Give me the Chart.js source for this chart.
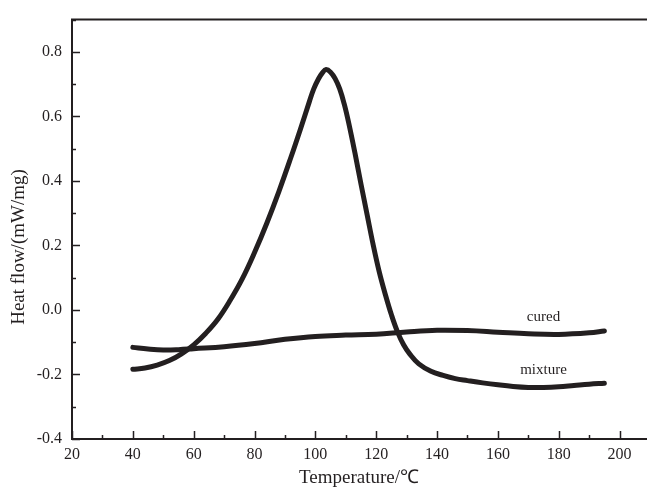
<!DOCTYPE html>
<html>
<head>
<meta charset="utf-8">
<script src="https://cdn.jsdelivr.net/npm/chart.js@4"></script>
<style>
    html, body { margin: 0; padding: 0; background: #fff; overflow: hidden; }
    #dsc { display: block; }
</style>
</head>
<body>
<canvas id="dsc" width="660" height="490"></canvas>
<script>
// ─── DSC data ────────────────────────────────────────────────────────────────

const mixtureTemp = [40, 44, 48, 52, 56, 60, 64, 68, 72, 76, 80, 84, 88, 92, 95, 98, 99.5, 101, 102.3, 103.5, 105, 106.5, 108, 109.5, 111, 113, 115, 117, 119, 121, 123, 125, 127, 129, 131, 134, 138, 142, 146, 150, 155, 160, 165, 170, 175, 180, 185, 190, 195];
const mixtureFlow = [-0.184, -0.180, -0.171, -0.157, -0.136, -0.108, -0.072, -0.028, 0.030, 0.097, 0.178, 0.268, 0.367, 0.474, 0.558, 0.645, 0.686, 0.716, 0.735, 0.745, 0.737, 0.717, 0.685, 0.638, 0.578, 0.487, 0.390, 0.296, 0.202, 0.118, 0.048, -0.015, -0.068, -0.108, -0.136, -0.167, -0.190, -0.203, -0.213, -0.219, -0.226, -0.232, -0.237, -0.240, -0.240, -0.238, -0.234, -0.230, -0.227];

const curedTemp = [40, 45, 50, 55, 60, 70, 80, 90, 100, 110, 120, 130, 140, 150, 160, 170, 180, 190, 195];
const curedFlow = [-0.116, -0.121, -0.124, -0.123, -0.120, -0.114, -0.104, -0.091, -0.082, -0.078, -0.075, -0.068, -0.063, -0.064, -0.069, -0.074, -0.076, -0.071, -0.065];

const xTickLabels = [20, 40, 60, 80, 100, 120, 140, 160, 180, 200];
const yTickLabels = ['-0.4', '-0.2', '0.0', '0.2', '0.4', '0.6', '0.8'];

const INK   = '#231f20';
const SERIF = '"Liberation Serif", "Times New Roman", serif';

const toPoints = (xs, ys) => xs.map((t, i) => ({ x: t, y: ys[i] }));

// frame, inward ticks, axis titles and curve labels
const framePlugin = {
    id: 'frame',
    afterDraw(chart) {
        const { ctx, chartArea: a, scales: { x, y } } = chart;
        ctx.save();
        ctx.strokeStyle = INK;
        ctx.lineWidth   = 2;
        ctx.beginPath();
        ctx.moveTo(a.right, a.top);
        ctx.lineTo(a.left, a.top);
        ctx.lineTo(a.left, a.bottom);
        ctx.lineTo(a.right, a.bottom);
        ctx.lineTo(a.right, a.top);
        ctx.stroke();

        ctx.lineWidth = 1.5;
        ctx.beginPath();
        for (let t = 20; t <= 210; t += 10) {
            const px  = Math.round(x.getPixelForValue(t)) + 0.5;
            const len = t % 20 === 0 ? 8 : 4;
            ctx.moveTo(px, a.bottom);
            ctx.lineTo(px, a.bottom - len);
        }
        for (let i = -4; i <= 9; i++) {
            const py  = Math.round(y.getPixelForValue(i / 10)) + 0.5;
            const len = i % 2 === 0 ? 8 : 4;
            ctx.moveTo(a.left, py);
            ctx.lineTo(a.left + len, py);
        }
        ctx.stroke();

        ctx.fillStyle = INK;
        ctx.font = '19px ' + SERIF;
        ctx.textAlign = 'center';
        ctx.textBaseline = 'alphabetic';
        ctx.fillText('Temperature/\u2103', (a.left + a.right) / 2 - 2, 483);

        ctx.save();
        ctx.translate(24, 247);
        ctx.rotate(-Math.PI / 2);
        ctx.fillText('Heat flow/(mW/mg)', 0, 0);
        ctx.restore();

        ctx.font = '15px ' + SERIF;
        ctx.textBaseline = 'middle';
        ctx.fillText('cured',   x.getPixelForValue(175), y.getPixelForValue(-0.022));
        ctx.fillText('mixture', x.getPixelForValue(175), y.getPixelForValue(-0.186));
        ctx.restore();
    },
};

const lineStyle = {
    borderColor: INK,
    borderWidth: 5,
    borderCapStyle: 'round',
    borderJoinStyle: 'round',
    pointRadius: 0,
    showLine: true,
    tension: 0.4,
    fill: false,
};

new Chart(document.getElementById('dsc').getContext('2d'), {
    type: 'scatter',
    data: {
        datasets: [
            { label: 'mixture', data: toPoints(mixtureTemp, mixtureFlow), ...lineStyle },
            { label: 'cured',   data: toPoints(curedTemp, curedFlow),     ...lineStyle },
        ],
    },
    options: {
        responsive: false,
        animation: false,
        layout: { padding: { top: 12, right: 10, left: 0, bottom: 0 } },
        plugins: {
            legend:  { display: false },
            tooltip: { enabled: false },
        },
        scales: {
            x: {
                type: 'linear',
                min: 20,
                max: 210,
                grid:   { display: false, drawTicks: false },
                border: { display: false },
                ticks: {
                    stepSize: 20,
                    includeBounds: false,
                    padding: 6,
                    color: INK,
                    font: { family: SERIF, size: 16 },
                    callback: v => xTickLabels.includes(v) ? String(v) : '',
                },
                afterFit(scale) { scale.height = 51; },
            },
            y: {
                type: 'linear',
                min: -0.4,
                max: 0.9,
                grid:   { display: false, drawTicks: false },
                border: { display: false },
                ticks: {
                    stepSize: 0.2,
                    includeBounds: false,
                    padding: 10,
                    color: INK,
                    font: { family: SERIF, size: 16 },
                    callback: v => {
                        const s = (Math.round(v * 10) / 10).toFixed(1);
                        return yTickLabels.includes(s) ? s : '';
                    },
                },
                afterFit(scale) { scale.width = 72; },
            },
        },
    },
    plugins: [framePlugin],
});
</script>
</body>
</html>
